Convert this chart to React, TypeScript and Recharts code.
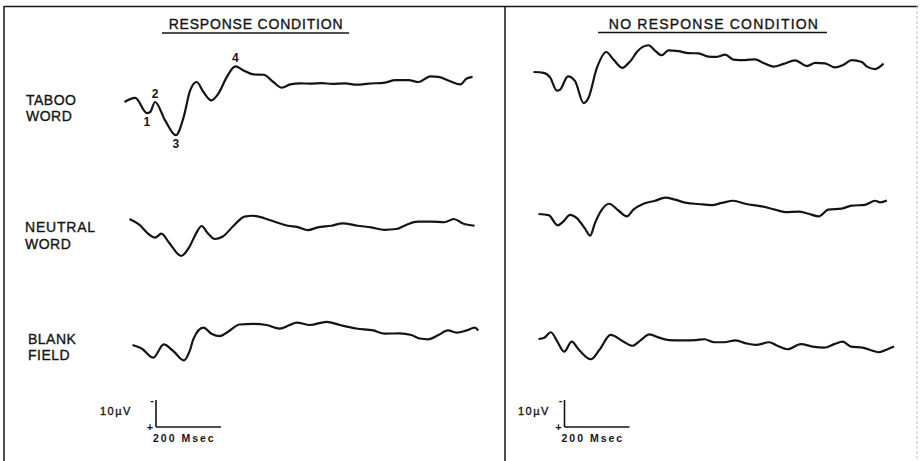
import { LineChart, Line, XAxis, YAxis, ReferenceDot } from "recharts";

// averaged evoked potentials, [ms from trace start, µV] (negative = up)
const tabooResp: [number, number][] = [
  [0, 0], [33, -1.5], [69, 4.1], [79, 3.7], [94, 0], [125, 6.8], [158, 12.3], [182, 5.6],
  [202, -4.3], [222, -7.4], [243, -3.7], [267, -0.6], [289, -3.1], [315, -9.3], [341, -13.2],
  [366, -11.7], [397, -10.2], [428, -10.1], [458, -7.4], [484, -5.3], [510, -6.5], [541, -6.9],
  [571, -6.8], [607, -7.0], [638, -6.7], [679, -6.9], [715, -6.4], [751, -6.8], [802, -7.2],
  [833, -8.1], [874, -8.1], [905, -7.4], [941, -9.5], [966, -9.3], [1002, -7.7], [1033, -6.5],
  [1053, -8.7], [1071, -9.3],
];
const tabooNoResp: [number, number][] = [
  [0, 0], [31, 0.3], [51, 2.0], [72, 6.9], [82, 6.5], [106, 1.6], [128, 3.4], [154, 11.5],
  [169, 9.6], [195, -1.5], [224, -7.4], [246, -4.6], [274, -1.5], [290, -3.0], [302, -4.6],
  [318, -7.4], [354, -9.9], [374, -7.9], [395, -6.2], [415, -8.0], [446, -7.7], [477, -7.0],
  [508, -6.9], [538, -5.7], [564, -5.6], [590, -6.4], [615, -4.6], [651, -4.4], [682, -4.7],
  [708, -3.3], [738, -2.0], [769, -3.0], [805, -4.3], [841, -2.2], [867, -3.4], [897, -3.2],
  [928, -1.7], [954, -2.7], [979, -4.4], [1010, -3.7], [1025, -2.1], [1051, -1.1], [1077, -3.1],
];
const neutralResp: [number, number][] = [
  [0, 0], [31, 2.2], [56, 5.3], [79, 6.9], [98, 5.4], [123, 9.0], [159, 13.7], [185, 10.2],
  [205, 5.3], [222, 2.6], [241, 5.3], [262, 7.4], [287, 6.5], [318, 2.8], [354, -0.9],
  [379, -1.2], [415, -0.3], [451, 1.2], [487, 2.5], [518, 3.0], [549, 4.1], [579, 3.1],
  [621, 2.5], [656, 1.6], [702, 2.5], [744, 3.1], [785, 4.0], [821, 3.7], [851, 2.2],
  [887, 1.0], [928, 1.0], [969, 1.2], [998, 0], [1026, 1.7], [1062, 2.5],
];
const neutralNoResp: [number, number][] = [
  [0, 0], [31, 0.4], [59, 4.2], [77, 2.7], [97, 0.3], [118, 1.5], [143, 5.4], [159, 8.0],
  [174, 3.3], [195, -1.6], [217, -3.8], [246, -1.3], [272, 0.9], [292, -1.6], [323, -3.8],
  [359, -4.9], [390, -6.1], [420, -5.3], [456, -4.1], [492, -3.7], [533, -3.3], [564, -4.1],
  [600, -4.9], [636, -3.8], [687, -2.8], [728, -1.6], [759, -0.7], [800, -0.9], [831, -0.1],
  [862, 0.9], [892, -1.6], [933, -2.0], [964, -3.1], [1005, -3.4], [1036, -4.9], [1051, -4.3],
  [1072, -5.0],
];
const blankResp: [number, number][] = [
  [0, 0], [28, 1.3], [64, 4.7], [96, -0.2], [125, 2.2], [158, 5.7], [176, 2.2], [187, -2.1],
  [218, -6.4], [243, -4.2], [269, -3.3], [294, -4.9], [330, -7.6], [371, -7.8], [412, -7.4],
  [453, -6.1], [484, -7.4], [505, -8.3], [546, -7.4], [597, -8.6], [638, -7.4], [689, -6.1],
  [741, -5.4], [776, -4.2], [822, -4.3], [858, -3.7], [884, -2.4], [910, -2.1], [941, -3.7],
  [971, -5.4], [997, -4.6], [1028, -5.4], [1053, -6.4], [1064, -5.4],
];
const blankNoResp: [number, number][] = [
  [0, 0], [18, -0.5], [38, -2.5], [58, 1.0], [79, 4.7], [102, 1.0], [125, 4.1], [161, 7.5],
  [187, 4.1], [222, -1.5], [258, 0.7], [289, 2.5], [315, 0.4], [341, -1.7], [371, -0.5],
  [402, 0.4], [443, 0.5], [484, 0.4], [510, 0.1], [541, 1.2], [571, 1.2], [607, 0.5],
  [638, 1.6], [669, 2.2], [710, 1.2], [735, 2.5], [766, 3.8], [807, 1.9], [843, 2.8],
  [879, 3.2], [910, 1.9], [936, 1.0], [961, 2.8], [997, 3.2], [1048, 4.9], [1074, 3.8],
  [1094, 2.8],
];

// component numbers on the taboo / response trace (index into tabooResp)
const tabooPeaks = [
  { idx: 2, text: "1", pos: "bottom" },
  { idx: 4, text: "2", pos: "top" },
  { idx: 6, text: "3", pos: "bottom" },
  { idx: 14, text: "4", pos: "top" },
];

const SCALE_MS = 200;
const SCALE_UV = 10;

const PX_PER_MS = 65 / 200;
const PX_PER_UV = 27 / 10;
const T_MIN = -20;
const T_MAX = 1120;
const UV_MIN = -20;
const UV_MAX = 20;
const INK = "#141414";
const FONT = "'Liberation Sans', Arial, sans-serif";

function Trace({ data, left, base, marks }: any) {
  const rows = data.map(([t, v]: [number, number]) => ({ t, v }));
  const w = (T_MAX - T_MIN) * PX_PER_MS;
  const h = (UV_MAX - UV_MIN) * PX_PER_UV;
  return (
    <div style={{ position: "absolute", left: left + T_MIN * PX_PER_MS, top: base + UV_MIN * PX_PER_UV }}>
      <LineChart width={w} height={h} data={rows} margin={{ top: 0, right: 0, bottom: 0, left: 0 }}>
        <XAxis dataKey="t" type="number" domain={[T_MIN, T_MAX]} allowDataOverflow hide />
        <YAxis type="number" domain={[UV_MIN, UV_MAX]} reversed allowDataOverflow hide />
        <Line
          dataKey="v"
          type="monotone"
          stroke={INK}
          strokeWidth={2.2}
          dot={false}
          activeDot={false}
          isAnimationActive={false}
        />
        {marks?.map((m: any) => (
          <ReferenceDot
            key={m.text}
            x={data[m.idx][0]}
            y={data[m.idx][1]}
            r={0}
            fill="none"
            stroke="none"
            label={{
              value: m.text,
              position: m.pos,
              offset: 4,
              fill: INK,
              fontSize: 12,
              fontWeight: "bold",
              fontFamily: FONT,
            }}
          />
        ))}
      </LineChart>
    </div>
  );
}

function ScaleBar({ x, y, labelX }: { x: number; y: number; labelX: number }) {
  const hx = SCALE_MS * PX_PER_MS;
  const vy = SCALE_UV * PX_PER_UV;
  return (
    <g fontFamily={FONT} fill={INK}>
      <line x1={x} y1={y - vy} x2={x} y2={y} stroke={INK} strokeWidth={1.6} />
      <line x1={x} y1={y} x2={x + hx} y2={y} stroke={INK} strokeWidth={1.6} />
      <text x={x - 4} y={y - vy + 4} fontSize={11} fontWeight="bold" textAnchor="middle">-</text>
      <text x={x - 6} y={y + 4} fontSize={11} fontWeight="bold" textAnchor="middle">+</text>
      <text x={labelX} y={y - 12} fontSize={11} letterSpacing={1.5} stroke={INK} strokeWidth={0.35}>{`10µV`}</text>
      <text x={x - 3} y={y + 15} fontSize={10.5} fontWeight="bold" letterSpacing={2}>
        {`${SCALE_MS} Msec`}
      </text>
    </g>
  );
}

export default function App() {
  return (
    <div style={{ position: "absolute", left: 0, top: 0, width: 921, height: 461, background: "#fff", overflow: "hidden" }}>
      <svg width={921} height={461} style={{ position: "absolute", left: 0, top: 0 }}>
        {/* frame */}
        <line x1={4} y1={6.5} x2={918} y2={6.5} stroke={INK} strokeWidth={1.5} />
        <line x1={4} y1={6} x2={4} y2={461} stroke={INK} strokeWidth={1.5} />
        <line x1={505} y1={6} x2={505} y2={461} stroke={INK} strokeWidth={1.5} />
        <line x1={917} y1={6} x2={917} y2={461} stroke="#bbb" strokeWidth={1} strokeDasharray="3 2" />

        <g fontFamily={FONT} fill={INK} fontSize={14} stroke={INK} strokeWidth={0.35}>
          <text x={256} y={28.5} textAnchor="middle" letterSpacing={0.8}>RESPONSE CONDITION</text>
          <line x1={162} y1={33} x2={349} y2={33} stroke={INK} strokeWidth={1.5} />
          <text x={714} y={28.5} textAnchor="middle" letterSpacing={1.2}>NO RESPONSE CONDITION</text>
          <line x1={598} y1={32.5} x2={827} y2={32.5} stroke={INK} strokeWidth={1.5} />

          <text x={26} y={105} letterSpacing={0.5}>TABOO</text>
          <text x={26} y={121} letterSpacing={0.5}>WORD</text>
          <text x={25} y={232} letterSpacing={0.8}>NEUTRAL</text>
          <text x={25} y={248.5} letterSpacing={0.5}>WORD</text>
          <text x={28} y={343.5} letterSpacing={0.5}>BLANK</text>
          <text x={28} y={359.5} letterSpacing={0.5}>FIELD</text>
        </g>

        <ScaleBar x={156} y={427} labelX={100} />
        <ScaleBar x={564.5} y={427} labelX={518} />
      </svg>

      <Trace data={tabooResp} left={124} base={101.7} marks={tabooPeaks} />
      <Trace data={neutralResp} left={129} base={219} />
      <Trace data={blankResp} left={132} base={345.3} />
      <Trace data={tabooNoResp} left={533} base={72} />
      <Trace data={neutralNoResp} left={538.7} base={214.3} />
      <Trace data={blankNoResp} left={538} base={339} />
    </div>
  );
}
